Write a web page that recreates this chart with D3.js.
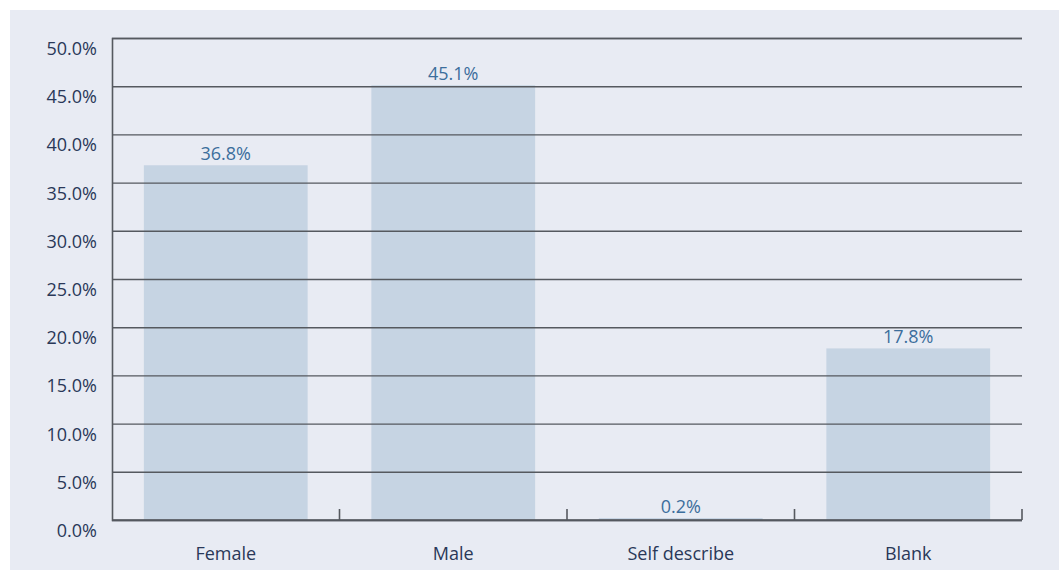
<!DOCTYPE html>
<html>
<head>
<meta charset="utf-8">
<script src="https://cdn.jsdelivr.net/npm/d3@7"></script>
<style>
  html, body { margin: 0; padding: 0; background: #ffffff; }
  svg { display: block; }
  text { font-family: "Open Sans", "Noto Sans", sans-serif; }
</style>
</head>
<body>
<svg id="chart" width="1059" height="570"></svg>
<script>
// Gender breakdown of respondents (share of total, %)
const categories = ["Female", "Male", "Self describe", "Blank"];
const shares = [36.8, 45.1, 0.2, 17.8];
const yTicks = [0, 5, 10, 15, 20, 25, 30, 35, 40, 45, 50];

const W = 1059, H = 570;
const margin = { top: 38, right: 37, bottom: 50, left: 112 };
const plotW = W - margin.left - margin.right;
const plotH = 520 - margin.top;

const svg = d3.select("#chart");

// panel background
svg.append("rect")
  .attr("x", 10).attr("y", 10)
  .attr("width", W - 10).attr("height", H - 10)
  .attr("fill", "#e8ebf3");

const g = svg.append("g").attr("transform", `translate(${margin.left},${margin.top})`);

const x = d3.scaleBand().domain(categories).range([0, plotW]).paddingInner(0.28).paddingOuter(0.14);
const y = d3.scaleLinear().domain([0, 50]).range([plotH, 0]);

// bars
g.selectAll("rect.bar")
  .data(categories)
  .join("rect")
  .attr("class", "bar")
  .attr("x", d => x(d))
  .attr("width", x.bandwidth())
  .attr("y", (d, i) => y(shares[i]))
  .attr("height", (d, i) => plotH - y(shares[i]))
  .attr("fill", "#c6d4e3");

// horizontal gridlines with percentage labels sitting just below each line
const yAxis = d3.axisLeft(y)
  .tickValues(yTicks)
  .tickSize(-plotW)
  .tickPadding(15)
  .tickFormat(d => d.toFixed(1) + "%");

const yg = g.append("g").call(yAxis);
yg.select(".domain").attr("stroke", "#55595f").attr("stroke-width", 1.6);
yg.selectAll(".tick line").attr("stroke", "#55595f").attr("stroke-width", 1.4);
yg.selectAll(".tick text")
  .attr("fill", "#2a3858")
  .attr("font-size", 18)
  .attr("dy", 16.5);

// category axis with separator ticks between bands
const xg = g.append("g").attr("transform", `translate(0,${plotH})`);
xg.append("line")
  .attr("x1", 0).attr("x2", plotW)
  .attr("stroke", "#55595f").attr("stroke-width", 1.6);

const boundaries = d3.range(categories.length + 1).map(i => i * plotW / categories.length);
xg.selectAll("line.sep")
  .data(boundaries.slice(1))
  .join("line")
  .attr("class", "sep")
  .attr("x1", d => d).attr("x2", d => d)
  .attr("y1", 0).attr("y2", -11)
  .attr("stroke", "#55595f").attr("stroke-width", 1.6);

xg.selectAll("text.cat")
  .data(categories)
  .join("text")
  .attr("class", "cat")
  .attr("x", d => x(d) + x.bandwidth() / 2)
  .attr("y", 40)
  .attr("text-anchor", "middle")
  .attr("fill", "#2a3858")
  .attr("font-size", 18)
  .text(d => d);

// value labels
g.selectAll("text.val")
  .data(categories)
  .join("text")
  .attr("class", "val")
  .attr("x", d => x(d) + x.bandwidth() / 2)
  .attr("y", (d, i) => y(shares[i]) - 5.5)
  .attr("text-anchor", "middle")
  .attr("fill", "#3c6e9c")
  .attr("font-size", 18)
  .text((d, i) => shares[i].toFixed(1) + "%");
</script>
</body>
</html>
